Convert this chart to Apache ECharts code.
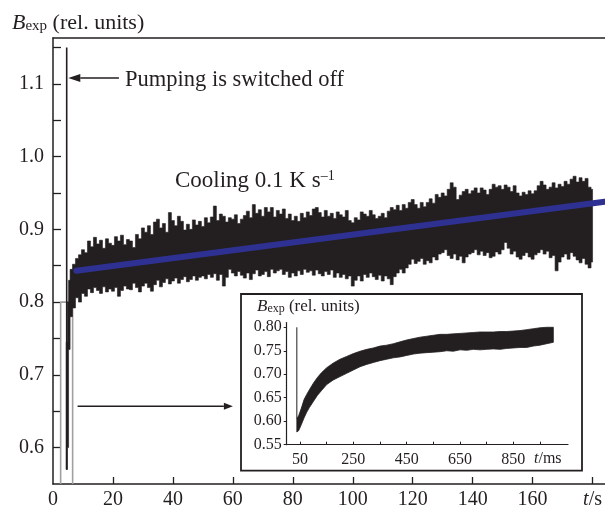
<!DOCTYPE html>
<html><head><meta charset="utf-8">
<script src="https://cdn.jsdelivr.net/npm/echarts@6/dist/echarts.min.js"></script>
<style>html,body{margin:0;padding:0;background:#fff}#c{width:605px;height:511px}</style>
</head><body><div id="c"></div>
<script>
// ---------- main axes ----------
const xTickVals  = [20, 40, 60, 80, 100, 120, 140, 160, 180];
const xLabelVals = [0, 20, 40, 60, 80, 100, 120, 140, 160, 180]; // 180 -> "t/s"
const yTickVals  = [0.6, 0.65, 0.7, 0.75, 0.8, 0.85, 0.9, 0.95, 1.0, 1.05, 1.1, 1.15];
const yLabelVals = [0.6, 0.7, 0.8, 0.9, 1.0, 1.1];

// ---------- main signal (t in s) ----------
// steep rise right after pumping is switched off
const riseT    = [4.6, 5.0, 5.4];
const riseLow  = [0.570, 0.600, 0.735];
const riseHigh = [0.745, 0.800, 0.830];
// noise band, sampled each second from t = 6 s to 180 s
const bandStart = 6;
const bandHigh = [
 0.845,0.852,0.860,0.865,
 0.872,0.868,0.884,0.876,0.889,0.880,0.885,0.874,0.887,0.881,
 0.878,0.890,0.884,0.892,0.879,0.886,0.884,0.875,0.893,0.887,
 0.902,0.896,0.905,0.893,0.910,0.914,0.902,0.908,0.896,0.923,
 0.912,0.905,0.918,0.911,0.899,0.907,0.900,0.913,0.906,0.911,
 0.904,0.916,0.909,0.917,0.932,0.912,0.921,0.918,0.910,0.916,
 0.914,0.920,0.908,0.914,0.919,0.925,0.916,0.934,0.922,0.927,
 0.918,0.930,0.924,0.930,0.917,0.926,0.921,0.928,0.915,0.921,
 0.912,0.918,0.911,0.922,0.916,0.924,0.919,0.928,0.930,0.923,
 0.917,0.926,0.918,0.922,0.915,0.924,0.920,0.917,0.926,0.912,
 0.909,0.916,0.913,0.924,0.921,0.918,0.926,0.920,0.915,0.918,
 0.922,0.916,0.925,0.930,0.927,0.933,0.926,0.934,0.929,0.937,
 0.941,0.934,0.929,0.937,0.931,0.937,0.942,0.936,0.948,0.944,
 0.950,0.946,0.955,0.964,0.958,0.941,0.947,0.952,0.955,0.949,
 0.953,0.957,0.950,0.957,0.954,0.948,0.955,0.962,0.958,0.960,
 0.955,0.961,0.958,0.952,0.960,0.950,0.946,0.951,0.948,0.953,
 0.949,0.953,0.960,0.966,0.961,0.955,0.958,0.964,0.957,0.962,
 0.959,0.966,0.962,0.969,0.973,0.965,0.971,0.966,0.970,0.958,
 0.955];
const bandLow = [
 0.780,0.792,0.806,0.800,
 0.812,0.808,0.818,0.813,0.820,0.816,0.812,0.821,0.814,0.818,
 0.815,0.820,0.808,0.816,0.822,0.818,0.817,0.826,0.820,0.814,
 0.822,0.826,0.820,0.815,0.824,0.830,0.821,0.827,0.832,0.825,
 0.829,0.833,0.826,0.831,0.835,0.828,0.831,0.836,0.830,0.834,
 0.836,0.832,0.838,0.834,0.839,0.830,0.838,0.822,0.834,0.845,
 0.840,0.836,0.842,0.837,0.833,0.840,0.831,0.839,0.844,0.836,
 0.838,0.842,0.835,0.845,0.840,0.843,0.845,0.838,0.842,0.834,
 0.840,0.836,0.843,0.838,0.845,0.841,0.843,0.837,0.844,0.839,
 0.836,0.842,0.838,0.844,0.834,0.840,0.834,0.838,0.832,0.836,
 0.822,0.830,0.836,0.829,0.838,0.834,0.840,0.835,0.831,0.837,
 0.829,0.836,0.832,0.824,0.835,0.840,0.845,0.840,0.847,0.852,
 0.859,0.853,0.856,0.860,0.852,0.857,0.854,0.862,0.858,0.866,
 0.868,0.872,0.864,0.860,0.866,0.858,0.863,0.854,0.862,0.866,
 0.868,0.872,0.865,0.870,0.864,0.868,0.861,0.863,0.869,0.866,
 0.872,0.882,0.874,0.866,0.870,0.862,0.859,0.864,0.868,0.862,
 0.859,0.865,0.868,0.872,0.866,0.870,0.861,0.864,0.843,0.855,
 0.862,0.866,0.859,0.868,0.863,0.858,0.854,0.860,0.852,0.847,
 0.855];

// spike while pumping is on
const spikeT = [4.57, 4.57];
const spikeV = [1.15, 0.57];
// linear cooling trend (blue)
const trendT = [7.8, 184];
const trendV = [0.843, 0.938];
// zoom window (grey rectangle)
const winT = [2.55, 2.55, 6.55, 6.55];
const winV = [0.55, 0.80, 0.80, 0.55];
// arrows
const arrFromT = [22, 8.2];
const arrFromV = [1.108, 0.657];
const arrToT   = [5.1, 60];
const arrToV   = [1.108, 0.657];

// ---------- inset (t in ms) ----------
const inXTicks  = [50, 150, 250, 350, 450, 550, 650, 750, 850, 950];
const inXLabels = [50, 250, 450, 650, 850];
const inYVals   = [0.55, 0.60, 0.65, 0.70, 0.75, 0.80];
const inT    = [38, 45, 55, 65, 75, 85, 100, 115, 130, 150, 175, 200, 225, 250, 275, 300, 325, 350, 375, 400, 425, 450, 475, 500, 525, 550, 575, 600, 625, 650, 675, 700, 725, 750, 775, 800, 825, 850, 875, 900, 925, 950, 975, 1000];
const inLow  = [0.577,0.580,0.593,0.607,0.619,0.629,0.642,0.655,0.665,0.678,0.688,0.695,0.702,0.709,0.716,0.721,0.725,0.729,0.732,0.735,0.737,0.740,0.743,0.745,0.746,0.747,0.748,0.750,0.749,0.752,0.751,0.753,0.752,0.753,0.754,0.753,0.755,0.756,0.757,0.757,0.760,0.762,0.765,0.768];
const inHigh = [0.605,0.612,0.628,0.646,0.657,0.667,0.681,0.693,0.703,0.714,0.724,0.732,0.738,0.744,0.749,0.753,0.756,0.760,0.762,0.765,0.769,0.773,0.776,0.779,0.781,0.783,0.785,0.785,0.786,0.787,0.788,0.789,0.790,0.790,0.790,0.791,0.791,0.792,0.793,0.795,0.797,0.799,0.800,0.800];
const inSpikeT = [38, 38];
const inSpikeV = [0.80, 0.605];

// ---------- build ----------
const INK = '#231f20';
const SERIF = 'Liberation Serif';

const mainT = [], mainHi = [], mainLo = [];
riseT.forEach((t, i) => { mainT.push(t); mainHi.push(riseHigh[i]); mainLo.push(riseLow[i]); });
bandHigh.forEach((v, i) => { mainT.push(bandStart + i); mainHi.push(v); mainLo.push(bandLow[i]); });

// step-shaped envelope: each sample fills its own column
function stepBandRenderer(ts, hi, lo) {
  return function (params, api) {
    const n = ts.length, top = [], bot = [];
    for (let i = 0; i < n; i++) {
      const l = i === 0 ? ts[0] - (ts[1] - ts[0]) / 2 : (ts[i - 1] + ts[i]) / 2;
      const r = i === n - 1 ? ts[i] : (ts[i] + ts[i + 1]) / 2;
      top.push(api.coord([l, hi[i]]), api.coord([r, hi[i]]));
      bot.push(api.coord([l, lo[i]]), api.coord([r, lo[i]]));
    }
    return { type: 'polygon', shape: { points: top.concat(bot.reverse()) },
      style: { fill: INK, stroke: INK, lineWidth: 0.6 } };
  };
}
function bandRenderer(ts, hi, lo) {
  return function (params, api) {
    const pts = [];
    for (let i = 0; i < ts.length; i++) pts.push(api.coord([ts[i], hi[i]]));
    for (let i = ts.length - 1; i >= 0; i--) pts.push(api.coord([ts[i], lo[i]]));
    return { type: 'polygon', shape: { points: pts },
      style: { fill: INK, stroke: INK, lineWidth: 0.8 } };
  };
}
const headLen = [12, 9], headHalf = [4, 3.5];
function arrowRender(params, api) {
  const i = params.dataIndex;
  const p1 = api.coord([api.value(0), api.value(1)]);
  const p2 = api.coord([api.value(2), api.value(3)]);
  const dx = p2[0] - p1[0], dy = p2[1] - p1[1], L = Math.hypot(dx, dy);
  const ux = dx / L, uy = dy / L;
  const bx = p2[0] - ux * headLen[i], by = p2[1] - uy * headLen[i];
  const hw = headHalf[i];
  return { type: 'group', children: [
    { type: 'line', shape: { x1: p1[0], y1: p1[1], x2: bx, y2: by }, style: { stroke: INK, lineWidth: 1.5 } },
    { type: 'polygon', shape: { points: [[p2[0], p2[1]], [bx - uy * hw, by + ux * hw], [bx + uy * hw, by - ux * hw]] }, style: { fill: INK } }
  ]};
}
const arrowData = arrFromT.map((t, i) => [t, arrFromV[i], arrToT[i], arrToV[i]]);
const zip = (a, b) => a.map((v, i) => [v, b[i]]);

const chart = echarts.init(document.getElementById('c'), null, { renderer: 'canvas' });
chart.setOption({
  animation: false,
  backgroundColor: '#fff',
  grid: [
    { left: 53, top: 38, width: 552, height: 446 },
    { left: 286.7, top: 322.6, width: 281.3, height: 122.1 }
  ],
  xAxis: [
    { type: 'value', gridIndex: 0, min: 0, max: 184, position: 'bottom',
      axisLine: { show: true, onZero: false, lineStyle: { color: INK, width: 1.5 } },
      axisTick: { show: true, inside: true, length: 7, customValues: xTickVals, lineStyle: { color: INK, width: 1.3 } },
      axisLabel: { customValues: xLabelVals, margin: 6, fontFamily: SERIF, fontSize: 20, color: INK,
        formatter: v => v === 180 ? '{i|t}/s' : String(v),
        rich: { i: { fontStyle: 'italic', fontFamily: SERIF, fontSize: 20, color: INK } } },
      splitLine: { show: false } },
    { type: 'value', gridIndex: 0, min: 0, max: 184, position: 'top',
      axisLine: { show: true, onZero: false, lineStyle: { color: INK, width: 1.5 } },
      axisTick: { show: false }, axisLabel: { show: false }, splitLine: { show: false } },
    { type: 'value', gridIndex: 1, min: 0, max: 1055, position: 'bottom',
      axisLine: { show: true, onZero: false, lineStyle: { color: INK, width: 1.2 } },
      axisTick: { show: true, inside: true, length: 3, customValues: inXTicks, lineStyle: { color: INK, width: 1 } },
      axisLabel: { customValues: inXLabels, margin: 7, fontFamily: SERIF, fontSize: 16, color: INK },
      splitLine: { show: false } }
  ],
  yAxis: [
    { type: 'value', gridIndex: 0, min: 0.55, max: 1.163,
      axisLine: { show: true, onZero: false, lineStyle: { color: INK, width: 1.5 } },
      axisTick: { show: true, inside: true, length: 8, customValues: yTickVals, lineStyle: { color: INK, width: 1.3 } },
      axisLabel: { customValues: yLabelVals, margin: 9, fontFamily: SERIF, fontSize: 20, color: INK,
        formatter: v => v.toFixed(1) },
      splitLine: { show: false } },
    { type: 'value', gridIndex: 1, min: 0.55, max: 0.81,
      axisLine: { show: true, onZero: false, lineStyle: { color: INK, width: 1.2 } },
      axisTick: { show: true, inside: false, length: 3, customValues: inYVals, lineStyle: { color: INK, width: 1 } },
      axisLabel: { customValues: inYVals, margin: 5, fontFamily: SERIF, fontSize: 16, color: INK,
        formatter: v => v.toFixed(2) },
      splitLine: { show: false } }
  ],
  series: [
    { type: 'line', xAxisIndex: 0, yAxisIndex: 0, data: zip(winT, winV), symbol: 'none',
      lineStyle: { color: '#a0a0a0', width: 1.6 }, z: 1 },
    { type: 'line', xAxisIndex: 0, yAxisIndex: 0, data: zip(spikeT, spikeV), symbol: 'none',
      lineStyle: { color: INK, width: 1.6 }, z: 3 },
    { type: 'custom', xAxisIndex: 0, yAxisIndex: 0, data: [[6, 0.9]], renderItem: stepBandRenderer(mainT, mainHi, mainLo), z: 3 },
    { type: 'line', xAxisIndex: 0, yAxisIndex: 0, data: zip(trendT, trendV), symbol: 'none',
      lineStyle: { color: '#2e3192', width: 6, cap: 'round' }, z: 4 },
    { type: 'custom', xAxisIndex: 0, yAxisIndex: 0, data: arrowData, encode: { x: [0, 2], y: [1, 3] },
      renderItem: arrowRender, clip: false, z: 5 },
    { type: 'line', xAxisIndex: 2, yAxisIndex: 1, data: zip(inSpikeT, inSpikeV), symbol: 'none',
      lineStyle: { color: INK, width: 1 }, z: 3 },
    { type: 'custom', xAxisIndex: 2, yAxisIndex: 1, data: [[500, 0.7]], renderItem: bandRenderer(inT, inHigh, inLow), z: 3 }
  ],
  graphic: [
    { type: 'rect', shape: { x: 241, y: 294, width: 341, height: 176.7 },
      style: { fill: null, stroke: INK, lineWidth: 1.8 }, z: 10, silent: true },
    { type: 'text', x: 12, y: 23, z: 10, silent: true,
      style: { text: '{b|B}{s|exp}{r| (rel. units)}', verticalAlign: 'middle', fill: INK,
        rich: { b: { fontFamily: SERIF, fontStyle: 'italic', fontSize: 22, fill: INK },
                s: { fontFamily: SERIF, fontSize: 15, verticalAlign: 'bottom', fill: INK },
                r: { fontFamily: SERIF, fontSize: 22, fill: INK } } } },
    { type: 'text', x: 257, y: 306.5, z: 10, silent: true,
      style: { text: '{b|B}{s|exp}{r| (rel. units)}', verticalAlign: 'middle', fill: INK,
        rich: { b: { fontFamily: SERIF, fontStyle: 'italic', fontSize: 17, fill: INK },
                s: { fontFamily: SERIF, fontSize: 12, verticalAlign: 'bottom', fill: INK },
                r: { fontFamily: SERIF, fontSize: 17, fill: INK } } } },
    { type: 'text', x: 125, y: 80, z: 10, silent: true,
      style: { text: 'Pumping is switched off', fontFamily: SERIF, fontSize: 22.5, fill: INK, verticalAlign: 'middle' } },
    { type: 'text', x: 175, y: 181, z: 10, silent: true,
      style: { text: '{m|Cooling 0.1 K s}{p|–1}', verticalAlign: 'middle', fill: INK,
        rich: { m: { fontFamily: SERIF, fontSize: 23, fill: INK },
                p: { fontFamily: SERIF, fontSize: 14, verticalAlign: 'top', fill: INK } } } },
    { type: 'text', x: 534, y: 459, z: 10, silent: true,
      style: { text: '{i|t}{r|/ms}', verticalAlign: 'middle', fill: INK,
        rich: { i: { fontFamily: SERIF, fontStyle: 'italic', fontSize: 16, fill: INK },
                r: { fontFamily: SERIF, fontSize: 16, fill: INK } } } }
  ]
});
</script>
</body></html>
